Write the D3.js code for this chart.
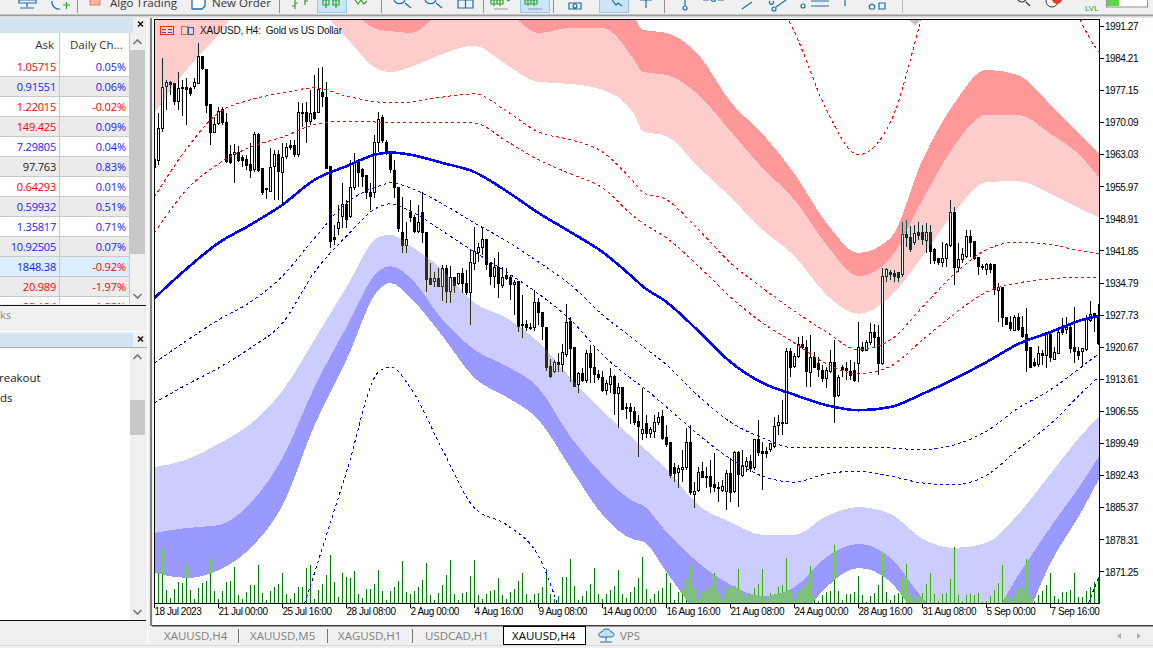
<!DOCTYPE html>
<html>
<head>
<meta charset="utf-8">
<script src="https://cdn.jsdelivr.net/npm/d3@7"></script>
<style>
html, body { margin: 0; padding: 0; background: #f0f0f0; overflow: hidden; }
svg { display: block; }
</style>
</head>
<body>
<div id="chart"></div>
<script>
// candles, one value per H4 bar
const opens = [
  1961.9,1961.6,1968.9,1977.9,1978.8,1978.6,1974.6,1977.7,1977.7,1977.5,
  1978.1,1978.8,1984.7,1981.7,1974.0,1967.8,1970.0,1972.9,1970.0,1963.0,
  1963.0,1963.4,1962.5,1961.9,1960.8,1959.6,1967.4,1959.9,1955.5,1955.0,
  1960.3,1963.0,1959.2,1962.5,1965.0,1965.0,1963.0,1972.2,1972.2,1970.2,
  1972.2,1972.2,1976.6,1975.7,1960.5,1944.9,1946.9,1949.3,1952.0,1949.3,
  1955.7,1961.2,1959.7,1958.4,1954.6,1954.6,1965.6,1971.1,1965.8,1963.4,
  1959.6,1955.9,1946.0,1942.9,1950.2,1949.3,1946.2,1950.2,1945.8,1935.7,
  1935.0,1935.7,1933.9,1937.9,1932.8,1935.9,1934.6,1936.8,1934.6,1932.6,
  1939.2,1941.6,1942.5,1944.3,1939.0,1936.1,1938.1,1934.4,1936.5,1935.9,
  1934.6,1935.2,1925.6,1925.6,1925.1,1924.9,1930.4,1928.2,1925.1,1916.5,
  1915.2,1917.2,1916.8,1919.2,1926.4,1920.7,1912.3,1914.8,1913.2,1919.2,
  1916.1,1914.6,1913.9,1911.0,1912.6,1914.3,1910.6,1911.9,1907.3,1907.3,
  1906.6,1904.4,1901.6,1903.8,1901.6,1902.2,1904.2,1905.5,1900.9,1899.6,
  1894.3,1893.0,1893.7,1894.1,1899.6,1888.4,1889.3,1893.4,1892.3,1892.3,
  1890.4,1889.7,1889.3,1888.8,1892.8,1888.8,1897.4,1892.5,1894.6,1895.6,
  1894.1,1900.3,1897.8,1897.8,1898.1,1898.9,1903.3,1903.8,1904.0,1919.8,
  1916.5,1918.5,1921.2,1920.5,1915.2,1918.5,1917.0,1915.6,1913.9,1915.4,
  1917.4,1909.9,1916.1,1915.9,1915.4,1915.6,1917.2,1920.7,1920.1,1921.8,
  1924.0,1922.9,1917.2,1936.1,1937.0,1936.8,1937.0,1936.5,1945.4,1944.7,
  1943.6,1945.8,1945.8,1944.3,1946.0,1942.1,1940.1,1939.2,1940.1,1942.9,
  1950.2,1938.1,1939.9,1940.7,1945.1,1944.0,1940.3,1938.5,1937.7,1938.8,
  1938.8,1933.3,1933.9,1927.3,1926.2,1924.5,1927.3,1924.9,1923.4,1920.5,
  1917.4,1916.8,1919.2,1918.7,1923.4,1918.1,1919.4,1924.7,1924.5,1924.9,
  1920.5,1919.8,1919.6,1920.1,1926.4,1928.0,1927.5
]
const highs = [
  1964.1,1972.2,1984.3,1979.5,1979.2,1978.6,1981.2,1979.5,1979.9,1977.9,
  1979.9,1987.6,1984.7,1981.7,1974.0,1971.3,1973.5,1973.5,1972.2,1965.2,
  1965.4,1965.0,1963.0,1963.0,1965.6,1968.0,1967.8,1959.9,1955.7,1964.5,
  1964.1,1964.1,1965.6,1965.6,1966.3,1966.3,1974.6,1974.4,1974.6,1977.3,
  1980.6,1982.1,1982.3,1979.0,1960.5,1947.6,1952.0,1956.8,1953.1,1961.9,
  1963.4,1961.9,1960.1,1958.6,1956.8,1967.4,1972.4,1971.8,1966.3,1963.6,
  1961.9,1955.9,1953.7,1948.2,1953.1,1949.8,1952.0,1954.8,1945.8,1939.2,
  1937.2,1938.1,1938.8,1938.8,1938.6,1936.1,1937.0,1938.1,1937.7,1942.1,
  1947.1,1943.6,1946.9,1944.3,1939.0,1940.3,1941.6,1938.3,1938.1,1936.5,
  1935.4,1935.2,1932.2,1926.6,1926.0,1933.3,1931.5,1928.4,1925.1,1918.1,
  1917.9,1919.4,1921.4,1930.2,1927.3,1920.7,1915.2,1916.1,1920.1,1921.2,
  1920.7,1915.6,1915.4,1913.5,1916.1,1914.6,1912.8,1911.9,1908.4,1908.4,
  1907.5,1905.8,1911.7,1905.8,1903.1,1905.8,1906.4,1906.9,1903.6,1899.6,
  1895.2,1894.8,1898.1,1902.9,1903.6,1891.0,1894.3,1895.4,1894.3,1895.9,
  1897.4,1891.0,1891.5,1893.6,1896.3,1897.8,1897.8,1898.1,1896.5,1896.9,
  1900.5,1904.7,1899.8,1898.7,1899.6,1905.3,1905.8,1909.1,1920.5,1920.5,
  1919.4,1922.9,1923.1,1922.3,1923.4,1919.6,1918.5,1916.8,1916.3,1920.1,
  1922.3,1914.6,1916.8,1917.4,1917.9,1917.4,1926.2,1921.8,1922.3,1926.0,
  1925.8,1925.6,1938.1,1938.1,1937.7,1937.7,1937.2,1948.2,1948.7,1947.3,
  1947.6,1948.2,1947.6,1948.0,1947.6,1942.5,1940.3,1943.8,1943.6,1953.1,
  1951.5,1943.6,1942.5,1946.5,1946.5,1944.0,1940.3,1939.0,1939.2,1939.2,
  1939.0,1934.8,1933.9,1927.3,1927.5,1927.8,1928.2,1927.5,1929.3,1920.7,
  1918.3,1920.9,1920.1,1924.0,1923.8,1920.7,1924.5,1927.1,1927.3,1925.6,
  1929.5,1920.7,1920.5,1927.8,1930.8,1928.2,1930.2
]
const lows = [
  1957.5,1960.8,1968.0,1972.9,1976.2,1974.0,1972.9,1971.5,1969.6,1976.0,
  1977.5,1978.8,1981.7,1972.2,1965.2,1967.8,1969.6,1969.6,1961.2,1961.0,
  1956.8,1961.4,1960.3,1959.6,1957.9,1959.2,1959.2,1954.2,1953.3,1954.8,
  1953.1,1953.1,1951.9,1962.1,1964.1,1962.5,1962.5,1969.1,1965.6,1969.6,
  1970.7,1972.2,1973.5,1960.1,1942.5,1943.1,1945.4,1946.9,1946.9,1949.1,
  1955.3,1955.9,1955.9,1953.3,1950.9,1953.5,1963.6,1965.6,1963.0,1959.0,
  1953.5,1946.0,1941.4,1941.4,1948.2,1945.8,1945.8,1943.6,1932.8,1934.4,
  1933.9,1933.9,1930.8,1930.4,1930.4,1932.6,1934.4,1932.6,1932.2,1925.6,
  1937.7,1939.4,1941.0,1937.7,1934.4,1933.7,1931.5,1933.7,1935.4,1931.1,
  1927.8,1924.0,1922.7,1924.2,1924.5,1924.2,1925.6,1922.3,1915.4,1913.9,
  1915.0,1915.2,1915.2,1918.5,1913.0,1911.9,1910.6,1913.0,1912.8,1912.8,
  1912.8,1913.5,1910.8,1910.2,1910.6,1905.8,1902.9,1906.9,1904.9,1903.8,
  1903.6,1896.5,1900.3,1900.7,1900.7,1900.7,1903.6,1900.3,1898.7,1891.9,
  1891.0,1889.7,1891.0,1893.7,1888.2,1885.3,1888.8,1891.9,1889.7,1888.6,
  1888.8,1886.6,1888.8,1884.9,1886.6,1888.6,1885.5,1892.1,1893.2,1893.2,
  1893.7,1896.7,1889.3,1896.3,1897.6,1898.5,1901.4,1901.4,1903.8,1914.1,
  1916.1,1918.3,1920.3,1911.9,1911.9,1916.1,1914.1,1913.0,1911.7,1915.0,
  1904.0,1909.7,1914.1,1913.5,1913.5,1913.0,1913.0,1919.6,1919.8,1921.2,
  1920.5,1914.6,1916.8,1935.0,1935.4,1935.0,1935.0,1936.1,1942.7,1941.6,
  1943.2,1944.3,1943.2,1941.4,1939.0,1939.0,1938.8,1938.3,1938.3,1942.7,
  1934.4,1937.2,1939.2,1940.3,1940.5,1939.9,1936.5,1937.7,1936.5,1937.0,
  1932.2,1926.2,1925.1,1925.6,1924.2,1924.2,1924.2,1922.7,1915.2,1916.1,
  1916.3,1916.3,1916.8,1916.1,1917.4,1917.9,1919.2,1923.4,1923.6,1919.4,
  1917.2,1917.9,1916.3,1919.8,1926.2,1924.0,1921.2
]
const closes = [
  1960.1,1968.7,1977.9,1978.8,1978.4,1974.6,1977.5,1977.5,1977.3,1976.4,
  1979.0,1984.7,1982.1,1973.7,1967.8,1969.6,1972.6,1970.0,1961.4,1961.2,
  1963.4,1961.6,1961.9,1960.5,1959.4,1967.4,1959.4,1954.6,1955.3,1960.3,
  1963.0,1959.2,1962.5,1964.5,1964.5,1963.0,1972.2,1972.0,1970.2,1972.0,
  1970.9,1977.3,1975.7,1960.1,1944.0,1944.5,1948.2,1952.0,1948.7,1955.7,
  1961.2,1959.0,1958.1,1954.6,1953.7,1965.6,1970.7,1966.0,1963.4,1959.6,
  1955.9,1946.9,1943.2,1944.3,1949.1,1946.2,1948.2,1945.8,1935.4,1934.4,
  1935.7,1933.9,1937.9,1932.8,1935.9,1934.1,1936.8,1934.6,1932.6,1939.2,
  1941.8,1942.7,1944.3,1938.8,1936.1,1938.1,1934.6,1936.1,1935.9,1934.4,
  1935.0,1925.3,1925.3,1924.9,1924.9,1930.4,1928.2,1925.1,1916.3,1914.3,
  1917.2,1916.8,1919.4,1926.2,1920.5,1912.1,1914.8,1913.2,1919.2,1916.1,
  1914.6,1913.9,1911.0,1912.6,1914.3,1910.6,1911.9,1907.1,1907.1,1906.4,
  1904.2,1903.3,1902.5,1901.6,1902.5,1904.2,1905.3,1900.7,1899.4,1892.3,
  1893.0,1893.9,1894.1,1899.6,1888.6,1889.0,1893.2,1892.1,1892.1,1890.1,
  1889.7,1889.5,1890.1,1892.8,1888.6,1897.4,1892.5,1894.6,1895.6,1894.1,
  1900.3,1897.4,1897.4,1897.4,1899.4,1903.3,1904.0,1904.0,1919.8,1916.3,
  1918.7,1921.2,1920.5,1915.2,1918.5,1916.3,1915.6,1913.9,1915.6,1917.4,
  1909.9,1913.9,1915.6,1915.4,1914.6,1913.5,1920.7,1920.1,1921.8,1924.0,
  1922.9,1917.2,1936.3,1937.7,1936.5,1936.1,1935.9,1945.4,1944.7,1942.1,
  1945.6,1945.1,1944.3,1946.0,1941.8,1939.6,1939.2,1940.1,1943.2,1950.2,
  1938.1,1939.9,1941.0,1945.1,1943.8,1940.3,1938.3,1938.3,1938.8,1937.7,
  1933.3,1933.9,1927.3,1925.8,1924.9,1927.3,1924.7,1922.9,1919.8,1916.1,
  1916.8,1919.2,1918.7,1923.4,1918.3,1919.6,1924.0,1923.8,1924.9,1920.3,
  1919.6,1918.9,1920.3,1926.7,1927.8,1927.5,1921.6
]
const volumes = [
  20,30,54,13,5,14,21,20,37,13,
  4,15,20,22,44,12,4,12,21,22,
  36,8,4,11,18,18,38,10,3,12,
  16,19,30,9,4,10,16,16,35,38,
  4,13,19,28,48,21,6,30,26,25,
  32,9,5,14,14,19,33,12,3,12,
  16,22,42,11,9,12,16,23,40,8,
  3,10,18,28,43,9,3,10,11,27,
  43,8,4,9,12,13,25,8,4,11,
  14,22,30,9,3,9,10,16,34,9,
  4,7,26,26,44,17,3,7,12,19,
  35,9,4,9,13,17,33,9,5,11,
  16,25,46,14,4,9,12,15,30,20,
  3,11,13,23,37,15,4,11,13,16,
  30,10,4,14,15,17,34,10,6,9,
  15,19,34,4,10,9,16,18,45,12,
  3,11,15,19,37,6,2,8,11,12,
  58,12,3,9,9,11,27,8,1,7,
  10,18,50,11,3,8,10,24,39,8,
  3,7,10,19,30,9,2,9,10,24,
  56,8,2,8,9,8,10,1,2,7,
  13,20,38,7,3,8,15,14,44,6,
  2,8,12,18,30,7,4,11,11,13,
  30,6,6,12,16,21,26
]

// indicator values, read at these bars
const sampleBars = [0,8,16,24,32,40,48,56,59,64,72,80,88,96,104,112,120,122,128,136,144,152,160,168,176,184,192,200,208,216,224,232,236]
const maLine = [1931.5,1937.9,1943.6,1947.6,1952.0,1957.5,1960.5,1963.2,1963.5,1963.0,1961.2,1959.2,1955.0,1950.2,1946.0,1941.6,1935.7,1934.1,1930.6,1924.2,1917.4,1912.8,1910.2,1907.9,1906.8,1907.5,1910.4,1913.7,1917.4,1921.4,1924.0,1926.7,1927.5]
const redInner = [1945.8,1955.3,1961.0,1964.7,1966.9,1969.6,1970.4,1970.2,1970.2,1970.2,1970.2,1970.0,1966.0,1961.9,1958.8,1955.7,1949.3,1948.0,1944.7,1938.5,1931.7,1926.0,1921.6,1917.0,1914.8,1916.5,1922.3,1928.0,1932.8,1934.8,1935.7,1936.1,1936.1]
const redOuter = [1953.7,1964.3,1972.2,1975.1,1976.6,1977.7,1975.9,1974.6,1974.4,1974.6,1975.7,1976.4,1972.6,1968.0,1966.3,1963.6,1956.8,1954.8,1953.1,1946.5,1939.2,1933.7,1928.6,1924.0,1920.1,1922.3,1929.5,1936.8,1942.1,1943.8,1943.2,1941.8,1941.2]
const redFar = [2063.9,2072.3,2079.3,2074.1,2055.4,2043.9,2027.9,2011.1,2010.7,2014.2,2024.3,2033.1,2028.5,2025.7,2035.3,2038.0,2037.1,2036.7,2035.8,2027.4,2013.8,2002.3,1990.0,1972.9,1963.0,1970.2,1993.8,2019.1,2030.1,2021.7,2010.3,1991.6,1985.6]
const blueInner = [1917.2,1922.1,1926.7,1930.6,1936.3,1944.7,1952.4,1956.1,1956.8,1955.7,1952.2,1948.0,1944.0,1939.4,1934.4,1927.8,1922.3,1920.9,1916.8,1909.9,1904.2,1900.7,1898.5,1898.5,1898.7,1898.5,1898.1,1899.2,1902.2,1907.3,1911.3,1916.5,1919.2]
const blueOuter = [1908.4,1912.4,1916.1,1920.5,1926.0,1937.2,1945.1,1951.5,1952.2,1950.6,1946.2,1941.6,1937.2,1932.4,1926.7,1919.0,1913.2,1911.9,1907.5,1901.4,1896.1,1892.3,1891.0,1892.8,1893.4,1892.3,1890.8,1890.4,1892.5,1898.3,1903.8,1910.8,1914.1]
const blueFar = [1799.1,1803.4,1807.9,1821.1,1848.6,1871.0,1893.2,1915.2,1916.3,1911.7,1898.1,1885.3,1881.6,1874.7,1856.7,1845.3,1834.3,1832.0,1825.5,1821.1,1821.1,1823.3,1827.7,1838.7,1851.9,1843.1,1829.9,1821.1,1821.1,1821.1,1843.1,1861.1,1869.9]
const pinkLow = [1972.2,1981.7,1989.4,1998.2,1999.3,1996.0,1988.7,1981.7,1981.2,1982.3,1985.2,1987.0,1982.8,1979.0,1978.6,1977.3,1971.8,1968.2,1967.1,1960.3,1953.7,1946.5,1940.7,1932.2,1928.0,1931.9,1940.7,1950.4,1957.0,1957.2,1954.4,1950.9,1949.3]
const pinkMid = [1996.0,2001.4,2008.1,2014.7,2010.3,2003.7,1996.0,1990.5,1990.2,1989.8,1994.4,1996.0,1994.4,1989.8,1990.9,1990.9,1983.8,1981.2,1980.6,1976.2,1968.2,1960.1,1953.1,1943.2,1936.3,1940.3,1953.1,1965.1,1971.8,1971.8,1967.6,1962.3,1958.1]
const pinkHigh = [2014.7,2016.9,2023.5,2027.9,2023.5,2016.9,2012.4,2005.9,2005.9,2003.7,2008.1,2010.3,2005.9,2000.3,2000.3,1999.3,1993.1,1990.5,1989.8,1985.0,1974.6,1967.6,1958.8,1948.0,1941.4,1944.7,1961.9,1974.4,1981.7,1980.5,1974.0,1966.9,1963.4]
const lilacHigh = [1894.3,1895.9,1899.4,1903.8,1911.1,1922.3,1933.9,1944.9,1945.4,1942.9,1937.7,1930.4,1927.1,1921.8,1913.9,1906.6,1900.3,1898.7,1893.9,1885.9,1882.2,1879.4,1879.4,1883.5,1885.5,1884.0,1878.5,1876.5,1877.6,1884.0,1892.8,1901.6,1905.3]
const lilacMid = [1879.8,1880.9,1881.5,1886.4,1896.3,1911.9,1925.1,1937.4,1938.5,1935.9,1926.7,1920.1,1916.5,1911.7,1900.9,1892.6,1886.6,1885.9,1880.0,1873.2,1868.4,1865.9,1867.9,1874.5,1877.4,1874.3,1865.5,1859.5,1860.6,1870.6,1881.1,1891.0,1896.5]
const lilacLow = [1871.0,1869.9,1871.6,1876.5,1885.9,1903.5,1917.9,1933.3,1934.8,1931.5,1923.1,1913.9,1909.7,1904.7,1894.1,1883.8,1878.3,1878.0,1871.2,1861.7,1856.2,1854.0,1859.5,1867.9,1872.1,1869.0,1859.5,1851.9,1851.9,1858.0,1873.2,1884.9,1891.5]

// axis labels
const priceTicks = [1991.27,1984.21,1977.15,1970.09,1963.03,1955.97,1948.91,1941.85,1934.79,1927.73,1920.67,1913.61,1906.55,1899.49,1892.43,1885.37,1878.31,1871.25]
const timeLabels = ["18 Jul 2023","21 Jul 00:00","25 Jul 16:00","28 Jul 08:00","2 Aug 00:00","4 Aug 16:00","9 Aug 08:00","14 Aug 00:00","16 Aug 16:00","21 Aug 08:00","24 Aug 00:00","28 Aug 16:00","31 Aug 08:00","5 Sep 00:00","7 Sep 16:00"]

// left panel
const askValues = ["1.05715","0.91551","1.22015","149.425","7.29805","97.763","0.64293","0.59932","1.35817","10.92505","1848.38","20.989","23.194"]
const askColors = ["r","b","r","r","b","k","r","b","b","b","b","r","r"]
const dailyChanges = ["0.05%","0.06%","-0.02%","0.09%","0.04%","0.83%","0.01%","0.51%","0.71%","0.07%","-0.92%","-1.97%","-1.93%"]
const tabNames = ["XAUUSD,H4","XAUUSD,M5","XAGUSD,H1","USDCAD,H1","XAUUSD,H4"]

const W = 1153, H = 648
const plot = ({left: 154.5, right: 1099.5, top: 19.5, bottom: 603.5})
const uiFont = "'Open Sans','Noto Sans',sans-serif"
const axisFont = "'Liberation Sans',sans-serif"

const svg = d3.select("#chart").append("svg").attr("width", W).attr("height", H)
svg.append("rect").attr("width", W).attr("height", H).attr("fill", "#f0f0f0")

const x = d3.scaleLinear().domain([0, 236]).range([154.5, 1098.5])
const y = d3.scaleLinear().domain([1864.28, 1992.76]).range([603.5, 19.5])
const yVol = d3.scaleLinear().domain([0, 100]).range([603, 503])
const snap = v => Math.round(v - 0.5) + 0.5

const bars = d3.range(opens.length).map(i => ({i, o: opens[i], h: highs[i], l: lows[i], c: closes[i], v: volumes[i]}))
const defs = svg.append("defs")
defs.append("clipPath").attr("id", "plotClip").append("rect")
    .attr("x", plot.left + 0.5).attr("y", plot.top + 0.5)
    .attr("width", plot.right - plot.left - 1).attr("height", plot.bottom - plot.top - 1)

function bandPath(upper, lower) {
    return d3.area().curve(d3.curveMonotoneX)
        .x((d, i) => x(sampleBars[i]))
        .y0((d, i) => y(lower[i]))
        .y1((d, i) => y(upper[i]))(sampleBars)
}
function linePath(values) {
    return d3.line().curve(d3.curveMonotoneX)
        .x((d, i) => x(sampleBars[i]))
        .y((d, i) => y(values[i]))(sampleBars)
}

// white chart page
svg.append("rect").attr("x", 153).attr("y", 18).attr("width", W - 153).attr("height", 607).attr("fill", "#fff")

const g = svg.append("g").attr("clip-path", "url(#plotClip)").style("isolation", "isolate")
g.append("rect").attr("x", plot.left).attr("y", plot.top)
    .attr("width", plot.right - plot.left).attr("height", plot.bottom - plot.top).attr("fill", "#fff")

// candles
const candles = g.append("g").attr("shape-rendering", "crispEdges")
candles.selectAll("line").data(bars).join("line")
    .attr("x1", d => x(d.i)).attr("x2", d => x(d.i))
    .attr("y1", d => y(d.h)).attr("y2", d => y(d.l))
    .attr("stroke", "#000")
candles.selectAll("rect").data(bars).join("rect")
    .attr("x", d => x(d.i) - 1)
    .attr("y", d => snap(y(Math.max(d.o, d.c))))
    .attr("width", 2)
    .attr("height", d => Math.max(1, Math.round(Math.abs(y(d.o) - y(d.c)))))
    .attr("fill", "#000").attr("stroke", "#000")

// envelope bands flip the colours below them, like the terminal does
const bands = g.append("g").style("mix-blend-mode", "difference").attr("shape-rendering", "crispEdges")
bands.append("path").attr("d", bandPath(pinkMid, pinkLow)).attr("fill", "#003333")
bands.append("path").attr("d", bandPath(pinkHigh, pinkMid)).attr("fill", "#006666")
bands.append("path").attr("d", bandPath(lilacHigh, lilacMid)).attr("fill", "#333300")
bands.append("path").attr("d", bandPath(lilacMid, lilacLow)).attr("fill", "#666600")

// hollow up candles stay white
g.append("g").attr("shape-rendering", "crispEdges").selectAll("rect")
    .data(bars.filter(d => d.c > d.o)).join("rect")
    .attr("x", d => x(d.i) - 0.5)
    .attr("y", d => snap(y(d.c)) + 0.5)
    .attr("width", 1)
    .attr("height", d => Math.max(0, Math.round(y(d.o) - y(d.c)) - 1))
    .attr("fill", "#fff")

// tick volume, brighter where it crosses a blue band
defs.append("clipPath").attr("id", "lilacLight").append("path").attr("d", bandPath(lilacHigh, lilacMid))
defs.append("clipPath").attr("id", "lilacDark").append("path").attr("d", bandPath(lilacMid, lilacLow))
function drawVolume(color, clip) {
    const v = g.append("g").attr("shape-rendering", "crispEdges")
    if (clip) v.attr("clip-path", "url(#" + clip + ")")
    v.selectAll("line").data(bars).join("line")
        .attr("x1", d => x(d.i)).attr("x2", d => x(d.i))
        .attr("y1", yVol(0)).attr("y2", d => yVol(d.v))
        .attr("stroke", color)
}
drawVolume("#008000")
drawVolume("#33b300", "lilacLight")
drawVolume("#66e600", "lilacDark")

// dashed envelope lines and the moving average
const dashed = [[redInner, "#f00"], [redOuter, "#f00"], [redFar, "#f00"], [blueInner, "#00f"], [blueOuter, "#00f"], [blueFar, "#00f"]]
dashed.forEach(([vals, color]) => {
    g.append("path").attr("d", linePath(vals)).attr("fill", "none")
        .attr("stroke", color).attr("stroke-dasharray", "3 3").attr("shape-rendering", "crispEdges")
})
g.append("path").attr("d", linePath(maLine)).attr("fill", "none")
    .attr("stroke", "#0000ff").attr("stroke-width", 2.6).attr("shape-rendering", "crispEdges")

// chart shift marker
g.append("path").attr("d", d3.line()([[909, 20], [921, 20], [915, 25]])).attr("fill", "#c0c0c0")

// frame and axes
svg.append("rect").attr("x", plot.left).attr("y", plot.top)
    .attr("width", plot.right - plot.left).attr("height", plot.bottom - plot.top)
    .attr("fill", "none").attr("stroke", "#000").attr("shape-rendering", "crispEdges")

const yAxis = svg.append("g").attr("transform", "translate(" + plot.right + ",0)")
    .call(d3.axisRight(y).tickValues(priceTicks).tickSize(4).tickPadding(1.5).tickFormat(d3.format(".2f")).offset(0))
yAxis.selectAll("text").attr("y", 0.6)
const xAxis = svg.append("g").attr("transform", "translate(0," + plot.bottom + ")")
    .call(d3.axisBottom(x).tickValues(timeLabels.map((d, i) => i * 16)).tickSize(4).tickPadding(0)
        .tickFormat((d, i) => timeLabels[i]).offset(0))
xAxis.selectAll("text").attr("text-anchor", "start").attr("y", 4)
for (const a of [yAxis, xAxis]) {
    a.select(".domain").remove()
    a.selectAll("line").attr("stroke", "#000").attr("shape-rendering", "crispEdges")
    a.selectAll("text").attr("font-family", axisFont).attr("font-size", 10).attr("fill", "#000").attr("letter-spacing", "-0.45px")
}

// title
svg.append("text").attr("x", 200).attr("y", 33.5).attr("font-family", axisFont).attr("font-size", 10)
    .attr("fill", "#111").attr("letter-spacing", "-0.2px").attr("xml:space", "preserve").text("XAUUSD, H4:  Gold vs US Dollar")
const titleIcon = svg.append("g").attr("fill", "none").attr("shape-rendering", "crispEdges")
titleIcon.append("rect").attr("x", 160.5).attr("y", 26.5).attr("width", 13).attr("height", 8).attr("stroke", "#e03010")
titleIcon.append("path").attr("d", "M162 29.5h4M168 29.5h4M162 32.5h4M168 32.5h4").attr("stroke", "#2060b0")
titleIcon.append("rect").attr("x", 181.5).attr("y", 26.5).attr("width", 6).attr("height", 8).attr("stroke", "#e07010")
titleIcon.append("rect").attr("x", 188.5).attr("y", 27.5).attr("width", 5).attr("height", 7).attr("stroke", "#2060b0")

// bottom tabs
svg.append("rect").attr("x", 152).attr("y", 625).attr("width", W - 152).attr("height", 1.5).attr("fill", "#404040")
svg.append("rect").attr("x", 0).attr("y", 645).attr("width", W).attr("height", 1).attr("fill", "#d8d8d8")
svg.append("rect").attr("x", 503.5).attr("y", 626).attr("width", 82).attr("height", 18.5)
    .attr("fill", "#fff").attr("stroke", "#000").attr("shape-rendering", "crispEdges")
const tabX = [164, 250, 338, 425, 512]
svg.selectAll(".tab").data(tabNames).join("text").attr("class", "tab")
    .attr("x", (d, i) => tabX[i]).attr("y", 640).attr("font-family", uiFont).attr("font-size", 11.5)
    .attr("fill", (d, i) => i == 4 ? "#000" : "#808080").text(d => d)
svg.selectAll(".tabSep").data([238.5, 327.5, 412.5]).join("line").attr("class", "tabSep")
    .attr("x1", d => d).attr("x2", d => d).attr("y1", 629).attr("y2", 643).attr("stroke", "#777").attr("shape-rendering", "crispEdges")
svg.append("text").attr("x", 620).attr("y", 640).attr("font-family", uiFont).attr("font-size", 11.5).attr("fill", "#808080").text("VPS")
svg.append("path").attr("fill", "#bfe0f5").attr("stroke", "#1a6ea8")
    .attr("d", "M601 637c-3 0-3-5 1-5c1-4 8-4 9 0c4 0 4 5 0 5ZM606 637v4M600 642h12")
svg.selectAll(".tabArrow").data([1119, 1139]).join("path").attr("class", "tabArrow")
    .attr("d", (d, i) => i == 0 ? `M${d + 2} 633l-4 3l4 3Z` : `M${d - 2} 633l4 3l-4 3Z`).attr("fill", "#b0b0b0")

// left panels
const panel = svg.append("g")
panel.append("rect").attr("x", 150).attr("y", 17).attr("width", 2).attr("height", 609).attr("fill", "#808080")
panel.append("rect").attr("x", 0).attr("y", 18).attr("width", 133).attr("height", 15).attr("fill", "#d4e3f0")
panel.append("rect").attr("x", 0).attr("y", 33).attr("width", 130).attr("height", 24).attr("fill", "#fff")
panel.append("text").attr("x", 54).attr("y", 49).attr("text-anchor", "end").attr("font-family", uiFont).attr("font-size", 11.5).attr("fill", "#333").text("Ask")
panel.append("text").attr("x", 70).attr("y", 49).attr("font-family", uiFont).attr("font-size", 11.5).attr("fill", "#333").text("Daily Ch...")
panel.append("defs").append("clipPath").attr("id", "tableClip").append("rect").attr("x", 0).attr("y", 33).attr("width", 130).attr("height", 271)
const colorOf = {r: "#ff0000", b: "#1a1aff", k: "#222"}
const table = panel.append("g").attr("clip-path", "url(#tableClip)")
const rows = table.selectAll("g").data(askValues).join("g")
    .attr("transform", (d, i) => `translate(0,${57 + i * 20})`)
rows.append("rect").attr("width", 129).attr("height", 19)
    .attr("fill", (d, i) => i == 10 ? "#dcefff" : i % 2 ? "#ebebeb" : "#fff")
rows.append("rect").attr("y", 19).attr("width", 129).attr("height", 1).attr("fill", "#c8c8c8")
rows.append("text").attr("x", 56).attr("y", 13.5).attr("text-anchor", "end").attr("font-family", uiFont).attr("font-size", 11)
    .attr("letter-spacing", "-0.2px").attr("fill", (d, i) => colorOf[askColors[i]]).text(d => d)
rows.append("text").attr("x", 126).attr("y", 13.5).attr("text-anchor", "end").attr("font-family", uiFont).attr("font-size", 11)
    .attr("letter-spacing", "-0.1px").attr("fill", (d, i) => dailyChanges[i][0] == "-" ? "#ff0000" : "#1a1aff").text((d, i) => dailyChanges[i])
panel.append("rect").attr("x", 59).attr("y", 33).attr("width", 1).attr("height", 271).attr("fill", "#c8c8c8")
panel.append("rect").attr("x", 129).attr("y", 33).attr("width", 1).attr("height", 271).attr("fill", "#c8c8c8")
panel.append("rect").attr("x", 130).attr("y", 50).attr("width", 15).attr("height", 204).attr("fill", "#c8c8c8")
panel.append("rect").attr("x", 0).attr("y", 305).attr("width", 146).attr("height", 1).attr("fill", "#111")
panel.append("text").attr("x", 0).attr("y", 319).attr("font-family", uiFont).attr("font-size", 11).attr("fill", "#888").text("ks")
panel.append("rect").attr("x", 0).attr("y", 331).attr("width", 147).attr("height", 1).attr("fill", "#fff")
panel.append("rect").attr("x", 0).attr("y", 333).attr("width", 133).attr("height", 14).attr("fill", "#d4e3f0")
panel.append("rect").attr("x", 0).attr("y", 347).attr("width", 147).attr("height", 1).attr("fill", "#aaa")
panel.append("rect").attr("x", 0).attr("y", 348).attr("width", 130).attr("height", 272).attr("fill", "#fff")
panel.append("rect").attr("x", 130).attr("y", 400).attr("width", 15).attr("height", 35).attr("fill", "#c8c8c8")
panel.append("rect").attr("x", 0).attr("y", 620).attr("width", 146).attr("height", 1).attr("fill", "#111")
panel.append("rect").attr("x", 147).attr("y", 18).attr("width", 1).attr("height", 627).attr("fill", "#fff")
panel.append("text").attr("x", -1).attr("y", 382).attr("font-family", uiFont).attr("font-size", 11.5).attr("fill", "#222").text("reakout")
panel.append("text").attr("x", 0).attr("y", 402).attr("font-family", uiFont).attr("font-size", 11.5).attr("fill", "#222").text("ds")
panel.selectAll(".closeX").data([24, 339]).join("path").attr("class", "closeX")
    .attr("d", d => `M138 ${d - 2.5}l5 5M143 ${d - 2.5}l-5 5`).attr("stroke", "#111").attr("stroke-width", 1.5)
const chevrons = [[137.5, 42, -1], [137.5, 296, 1], [137.5, 357, -1], [137.5, 612, 1]]
panel.selectAll(".chev").data(chevrons).join("path").attr("class", "chev")
    .attr("d", d => `M${d[0] - 4} ${d[1] - d[2] * 2}l4 ${d[2] * 4}l4 ${-d[2] * 4}`)
    .attr("fill", "none").attr("stroke", "#777").attr("stroke-width", 1.6)

// top toolbar
const tb = svg.append("g")
tb.append("rect").attr("width", W).attr("height", 14.5).attr("fill", "#f0f0f0")
tb.append("rect").attr("y", 14.5).attr("width", W).attr("height", 2).attr("fill", "#9a9a9a")
tb.append("rect").attr("y", 16.5).attr("width", W).attr("height", 1.5).attr("fill", "#e8e8e8")
tb.selectAll(".hl").data([[317, 29], [520, 29], [599, 29]]).join("rect").attr("class", "hl")
    .attr("x", d => d[0] + 0.5).attr("y", -1).attr("width", d => d[1]).attr("height", 13.5)
    .attr("fill", "#cce4f7").attr("stroke", "#90c8f0")
tb.selectAll(".sep").data([77, 279, 381, 483, 553, 664, 902]).join("rect").attr("class", "sep")
    .attr("x", d => d).attr("y", 0).attr("width", 1).attr("height", 13)
    .attr("fill", (d, i) => i == 6 ? "#bbb" : "#a08888")
tb.append("text").attr("x", 110).attr("y", 7).attr("font-family", uiFont).attr("font-size", 11.5).attr("fill", "#333").text("Algo Trading")
tb.append("text").attr("x", 212).attr("y", 7).attr("font-family", uiFont).attr("font-size", 11.5).attr("fill", "#333").text("New Order")
tb.append("rect").attr("x", 90).attr("y", -2).attr("width", 10).attr("height", 7).attr("fill", "#f4b6a4").attr("stroke", "#e07a60")
tb.append("path").attr("d", "M192 0v9h10l3-3v-6").attr("fill", "#fff").attr("stroke", "#1a6ea8").attr("stroke-width", 1.3)

const blueIcons = [
    "M19 0h17v3h-17ZM27 3v4M20 8h14",                    // monitor
    "M52 1a7 7 0 0 0 8 8",                                // globe
    "M399 0m-5 0a6 6 0 0 0 11 0M405 3l6 5",               // zoom in
    "M430 0m-5 0a6 6 0 0 0 11 0M436 3l6 5",               // zoom out
    "M458 0h15v8h-15ZM465.5 0v8",                         // windows
    "M569 3h12v6h-12ZM575 6m-2 0a2 2 0 1 0 4 0a2 2 0 1 0-4 0",  // camera
    "M612 0l4 5l2-2l4 3",                                  // cursor
    "M640 0h12M646 0v8",
    "M685 0v6M685 8m-2 0a2 2 0 1 0 4 0a2 2 0 1 0-4 0",
    "M703 0h6M711 0a3 3 0 0 0 5 0M718 0h6",
    "M742 9l10-7",
    "M774 9m-2 0a2 2 0 1 0 4 0a2 2 0 1 0-4 0M776 7l10-7M771 1m-1 0a2 2 0 1 0 3 0",
    "M811 6h18M803 6m-2 0a2 2 0 1 0 4 0a2 2 0 1 0-4 0M811 1h18",
    "M845 0v6",
    "M869 6l3-2l3 2l-1 3h-4ZM879 3h6v6h-6Z"
]
tb.selectAll(".blueIcon").data(blueIcons).join("path").attr("class", "blueIcon")
    .attr("d", d => d).attr("fill", "none").attr("stroke", "#1a6ea8").attr("stroke-width", 1.2)
const greenIcons = [
    "M63 5h7M66.5 2v7",
    "M295 0v9M292 6h3M295 3h3M305 0v5M305 1h3",
    "M326 0v8M323 0h6v5h-6ZM336 0v8M333 0h6v5h-6Z",
    "M355 0l3 4l3-4l3 4l3-3",
    "M494 0v6M491 0h6v4h-6ZM500 0v6M497 0h6v4h-6ZM507 1l3-1",
    "M528 0v6M525 0h6v4h-6ZM534 0v6M531 0h6v4h-6Z"
]
tb.selectAll(".greenIcon").data(greenIcons).join("path").attr("class", "greenIcon")
    .attr("d", d => d).attr("fill", "none").attr("stroke", "#2aa52a").attr("stroke-width", 1.2)
tb.append("path").attr("d", "M494 9h14M528 9h14").attr("stroke", "#999")
tb.append("path").attr("d", "M1018 0a5 5 0 0 0 8 0M1026 2l4 4").attr("fill", "none").attr("stroke", "#333").attr("stroke-width", 1.2)
tb.append("circle").attr("cx", 1052).attr("cy", 1).attr("r", 6).attr("fill", "#fff").attr("stroke", "#333")
tb.append("circle").attr("cx", 1057).attr("cy", -1).attr("r", 5).attr("fill", "#e0402a")
tb.append("text").attr("x", 1085).attr("y", 11).attr("font-family", axisFont).attr("font-size", 8).attr("fill", "#22aa22").text("LVL")
tb.append("rect").attr("x", 1106.5).attr("y", -2).attr("width", 41).attr("height", 9).attr("fill", "#fff").attr("stroke", "#a08888")
tb.append("rect").attr("x", 1107).attr("y", -1).attr("width", 12).attr("height", 7).attr("fill", "#5fd34a")
</script>
</body>
</html>
